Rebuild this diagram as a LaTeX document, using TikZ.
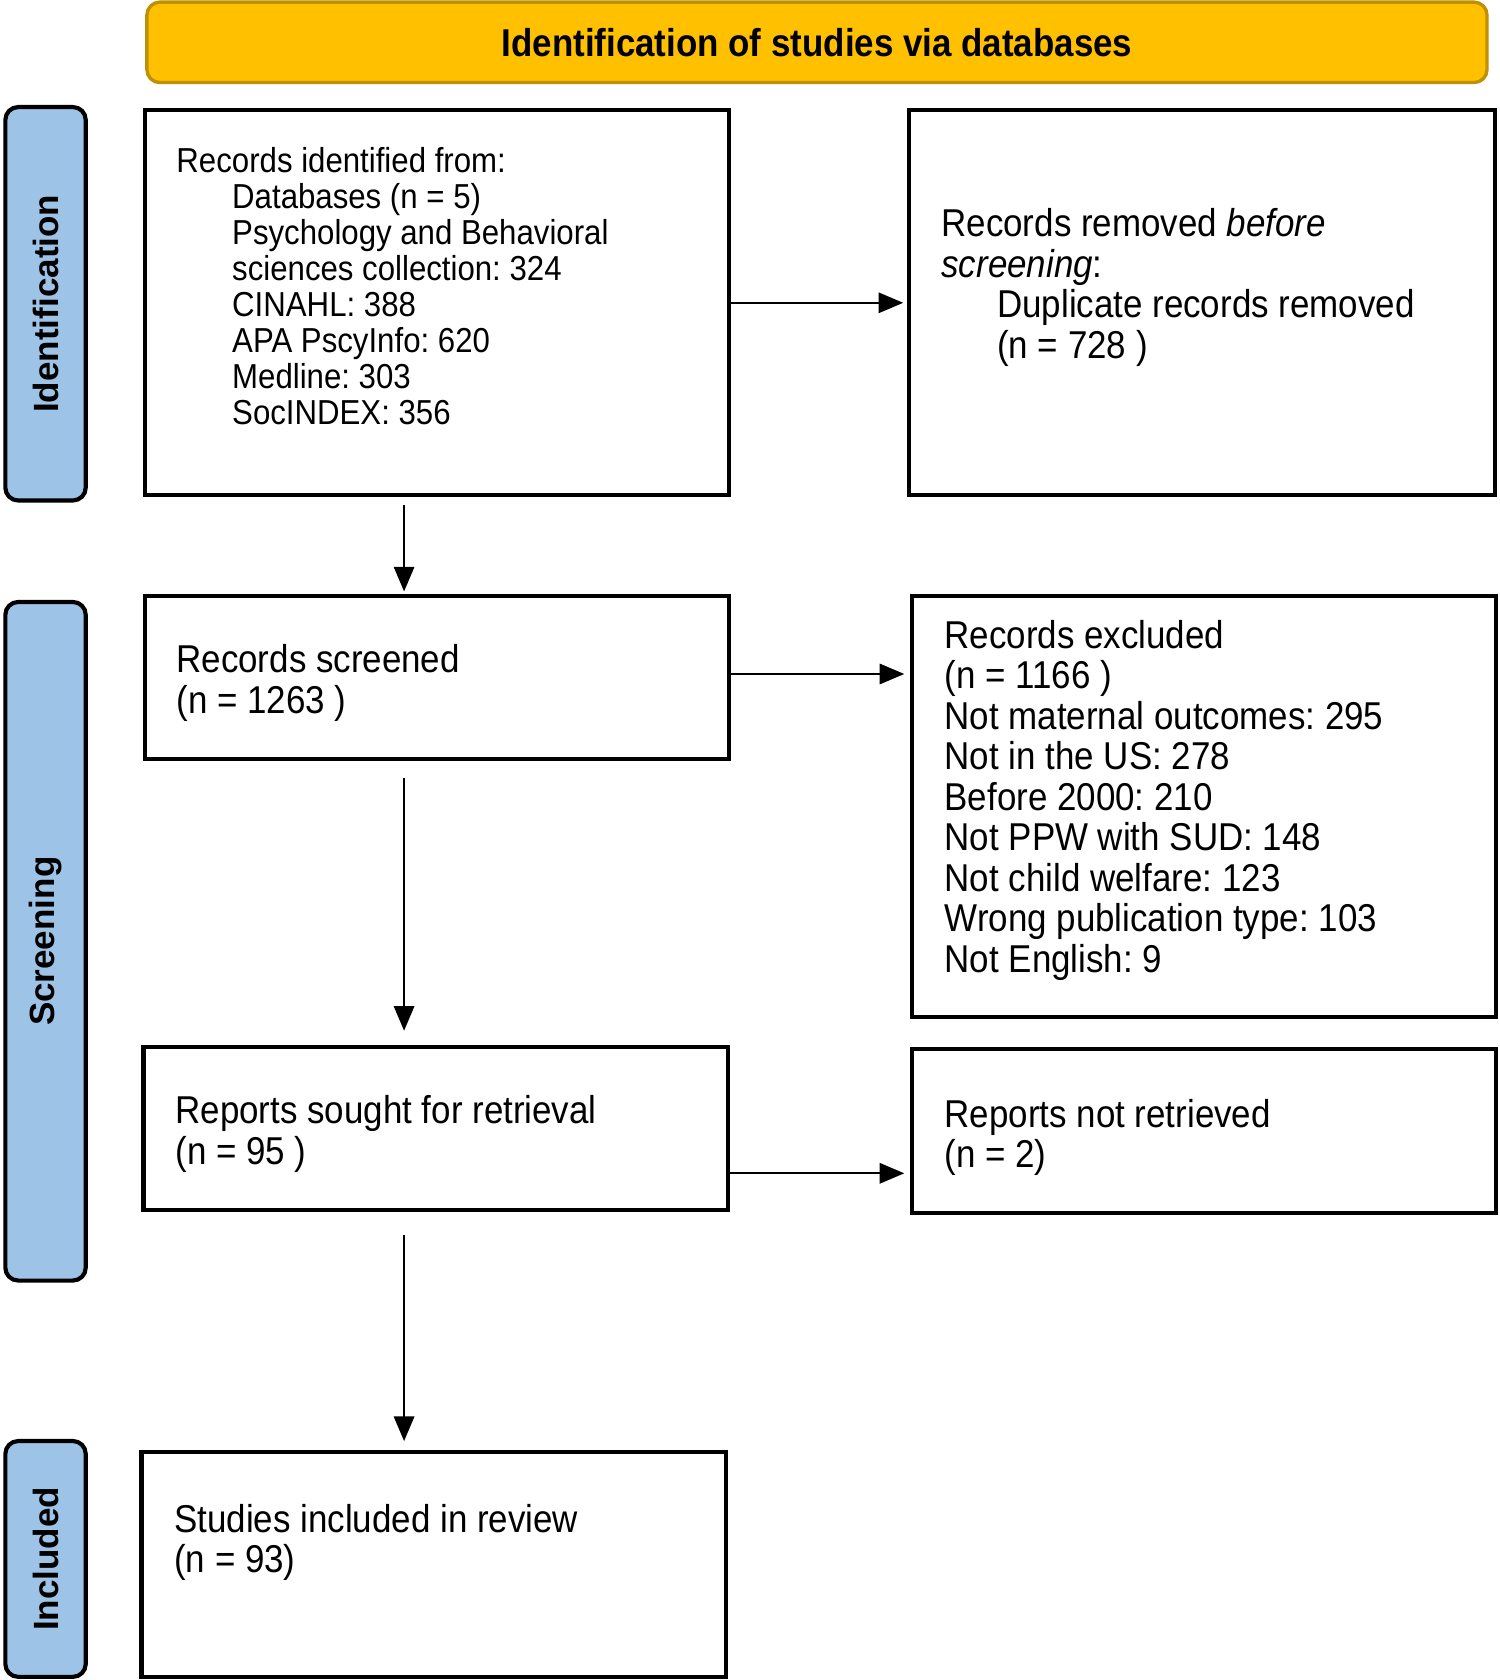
\documentclass[tikz,border=0pt]{standalone}
\usepackage{fontspec}
\setmainfont{Liberation Sans}[FakeStretch=0.9]
\newfontfamily\phasefont{Liberation Sans}
\usetikzlibrary{arrows.meta,positioning}
\frenchspacing

\definecolor{bannerfill}{HTML}{FFC000}
\definecolor{bannerdraw}{HTML}{BF9000}
\definecolor{phasefill}{HTML}{9DC3E6}

\begin{document}
\begin{tikzpicture}[
    x=0.01cm, y=-0.01cm,
    box/.style={
        rectangle,
        draw,
        line width=1.1pt,
        anchor=north west,
        inner sep=0pt,
        outer sep=0pt
    },
    boxtext/.style={
        anchor=north west,
        inner sep=0pt,
        align=left,
        font=\fontsize{10.3}{10.75}\selectfont
    },
    banner/.style={
        rectangle,
        draw=bannerdraw,
        fill=bannerfill,
        line width=0.9pt,
        rounded corners=0.12cm,
        minimum width=12.5cm,
        minimum height=0.75cm,
        font=\bfseries\fontsize{10.3}{12}\selectfont
    },
    phase/.style={
        rectangle,
        draw,
        fill=phasefill,
        line width=1.1pt,
        rounded corners=0.12cm,
        rotate=90,
        minimum height=0.75cm,
        font=\phasefont\bfseries\fontsize{9.3}{11}\selectfont
    },
    line/.style={
        draw, -{Triangle[length=0.23cm,width=0.19cm]}, line width=0.55pt
    }
]
    \useasboundingbox (0,0) rectangle (1400,1568);

    % Header and phases
    \node [banner] (head) at (762.5,39.5) {Identification of studies via databases};
    \node [phase, minimum width=3.67cm] (pid) at (42.5,283.5) {Identification};
    \node [phase, minimum width=6.33cm] (pscr) at (42.5,878.5) {Screening};
    \node [phase, minimum width=2.2cm] (pinc) at (42.5,1455) {Included};

    % Boxes
    \node [box, minimum width=5.45cm, minimum height=3.59cm] (ident) at (135,103) {};
    \node [box, minimum width=5.47cm, minimum height=3.59cm] (dupl) at (848,103) {};
    \node [box, minimum width=5.45cm, minimum height=1.52cm] (screen) at (135,556) {};
    \node [box, minimum width=5.45cm, minimum height=3.93cm] (excl) at (851,556) {};
    \node [box, minimum width=5.45cm, minimum height=1.52cm] (sought) at (134,977) {};
    \node [box, minimum width=5.45cm, minimum height=1.53cm] (notret) at (851,979) {};
    \node [box, minimum width=5.45cm, minimum height=2.10cm] (incl) at (132,1355) {};

    % Texts
    \node [boxtext, font=\fontsize{9.2}{9.55}\selectfont] (identtxt) at (164,137) {Records identified from:\\
        \hspace*{0.52cm}Databases (n = 5)\\
        \hspace*{0.52cm}Psychology and Behavioral\\
        \hspace*{0.52cm}sciences collection: 324\\
        \hspace*{0.52cm}CINAHL: 388\\
        \hspace*{0.52cm}APA PscyInfo: 620\\
        \hspace*{0.52cm}Medline: 303\\
        \hspace*{0.52cm}SocINDEX: 356};
    \node [boxtext] (dupltxt) at (878,194) {Records removed \textit{before}\\
        \textit{screening}:\\
        \hspace*{0.52cm}Duplicate records removed\\
        \hspace*{0.52cm}(n = 728 )};
    \node [boxtext] (screentxt) at (164,601) {Records screened\\(n = 1263 )};
    \node [boxtext] (excltxt) at (881,578) {Records excluded\\
        (n = 1166 )\\
        Not maternal outcomes: 295\\
        Not in the US: 278\\
        Before 2000: 210\\
        Not PPW with SUD: 148\\
        Not child welfare: 123\\
        Wrong publication type: 103\\
        Not English: 9};
    \node [boxtext] (soughttxt) at (163,1022) {Reports sought for retrieval\\(n = 95 )};
    \node [boxtext] (notrettxt) at (881,1025) {Reports not retrieved\\(n = 2)};
    \node [boxtext] (incltxt) at (162,1403) {Studies included in review\\(n = 93)};

    % Edges
    \path [line, shorten >=0.05cm] (ident) -- (dupl);
    \path [line, shorten >=0.07cm] ([yshift=0.03cm]screen.east) -- ([yshift=0.03cm]screen.east -| excl.west);
    \path [line, shorten >=0.07cm] ([yshift=-0.42cm]sought.east) -- ([yshift=-0.42cm]sought.east -| notret.west);
    \path [line, shorten <=0.09cm, shorten >=0.04cm] ([xshift=-0.305cm]ident.south) -- ([xshift=-0.305cm]ident.south |- screen.north);
    \path [line, shorten <=0.18cm, shorten >=0.15cm] ([xshift=-0.305cm]ident.south |- screen.south) -- ([xshift=-0.305cm]ident.south |- sought.north);
    \path [line, shorten <=0.24cm, shorten >=0.10cm] ([xshift=-0.305cm]ident.south |- sought.south) -- ([xshift=-0.305cm]ident.south |- incl.north);

\end{tikzpicture}
\end{document}
